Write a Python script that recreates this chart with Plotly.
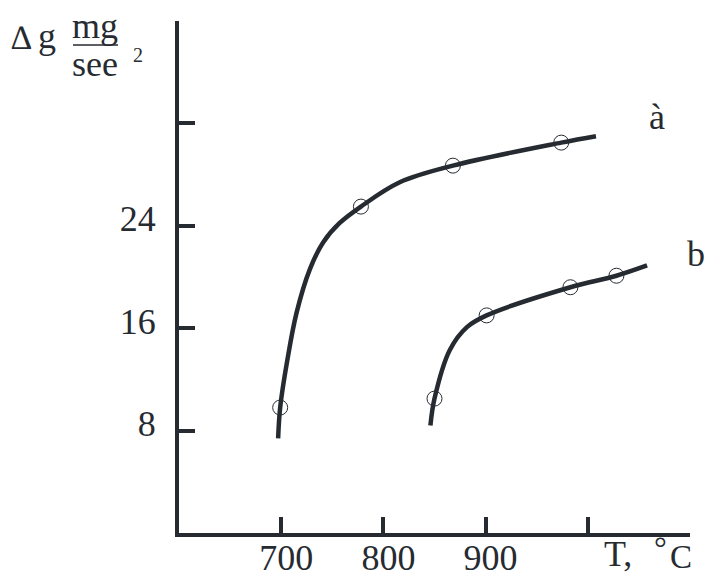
import plotly.graph_objects as go

W, H = 707, 577
L, R, T, B = 179, 17, 21, 44
INK = "#262b31"
FONT = "Liberation Serif"

# Curve a: points read along the drawn line, and the measured points (circles)
a_line_x = [697, 699, 706, 715, 728, 741, 757, 778, 816, 868, 974, 1008]
a_line_y = [7.4, 9.8, 13.5, 17.2, 20.6, 22.7, 24.2, 25.5, 27.4, 28.7, 30.5, 31.0]
a_pts_x = [699, 778, 868, 974]
a_pts_y = [9.8, 25.5, 28.7, 30.5]

# Curve b
b_line_x = [846, 850, 865, 882, 901, 983, 1028, 1058]
b_line_y = [8.4, 10.5, 14.3, 16.1, 17.0, 19.2, 20.1, 20.9]
b_pts_x = [850, 901, 983, 1028]
b_pts_y = [10.5, 17.0, 19.2, 20.1]

x_ticks = [700, 800, 900, 1000]
x_tick_text = ["700", "800", "900", ""]
y_ticks = [8, 16, 24, 32]
y_tick_text = ["8", "16", "24", ""]

series_labels = ["à", "b"]


def px(xp, yp):
    """pixel -> paper coords"""
    return (xp - L) / (W - L - R), (H - B - yp) / (H - T - B)


fig = go.Figure()
for lx, ly in [(a_line_x, a_line_y), (b_line_x, b_line_y)]:
    fig.add_trace(go.Scatter(x=lx, y=ly, mode="lines",
                             line=dict(color=INK, width=4.5, shape="spline", smoothing=1.0),
                             hoverinfo="skip", showlegend=False))
for mx, my in [(a_pts_x, a_pts_y), (b_pts_x, b_pts_y)]:
    fig.add_trace(go.Scatter(x=mx, y=my, mode="markers",
                             marker=dict(symbol="circle-open", size=15, color=INK,
                                         line=dict(width=1, color=INK)),
                             showlegend=False))

anns = []
def add_text(txt, xp, yp, size=36, xanchor="center", yanchor="middle"):
    x, y = px(xp, yp)
    anns.append(dict(text=txt, x=x, y=y, xref="paper", yref="paper", showarrow=False,
                     xanchor=xanchor, yanchor=yanchor, borderpad=0,
                     font=dict(family=FONT, size=size, color=INK)))

add_text(series_labels[0], 657, 117)
add_text(series_labels[1], 696, 254)
add_text("T,", 618, 554)
add_text("°", 660, 548, size=32)
add_text("C", 681, 557, size=33)
add_text("∆", 21, 37, size=34)
add_text("g", 47, 36)
add_text("mg", 95, 26)
add_text("see", 95, 64)
add_text("2", 138, 55, size=20)

fx0, fy = px(73, 45)
fx1, _ = px(118, 45)

fig.update_layout(
    width=W, height=H,
    margin=dict(l=L, r=R, t=T, b=B, autoexpand=False),
    paper_bgcolor="white", plot_bgcolor="white",
    annotations=anns,
    shapes=[dict(type="line", xref="paper", yref="paper", x0=fx0, x1=fx1, y0=fy, y1=fy,
                 line=dict(color=INK, width=1.5))],
    xaxis=dict(range=[600, 1100], showgrid=False, zeroline=False, showline=True,
               automargin=False,
               linecolor=INK, linewidth=4, ticks="inside", ticklen=16, tickwidth=4,
               tickcolor=INK, tickvals=x_ticks, ticktext=x_tick_text,
               tickfont=dict(family=FONT, size=36, color=INK), ticklabelshift=5,
               ticklabelstandoff=-10),
    yaxis=dict(range=[0, 40], showgrid=False, zeroline=False, showline=True,
               automargin=False,
               linecolor=INK, linewidth=4, ticks="inside", ticklen=16, tickwidth=4,
               tickcolor=INK, tickvals=y_ticks, ticktext=y_tick_text,
               tickfont=dict(family=FONT, size=36, color=INK), ticklabelshift=-7,
               ticklabelstandoff=12),
)

fig.write_html("out.html", config={"displayModeBar": False},
               post_script="document.body.style.margin='0px';")
